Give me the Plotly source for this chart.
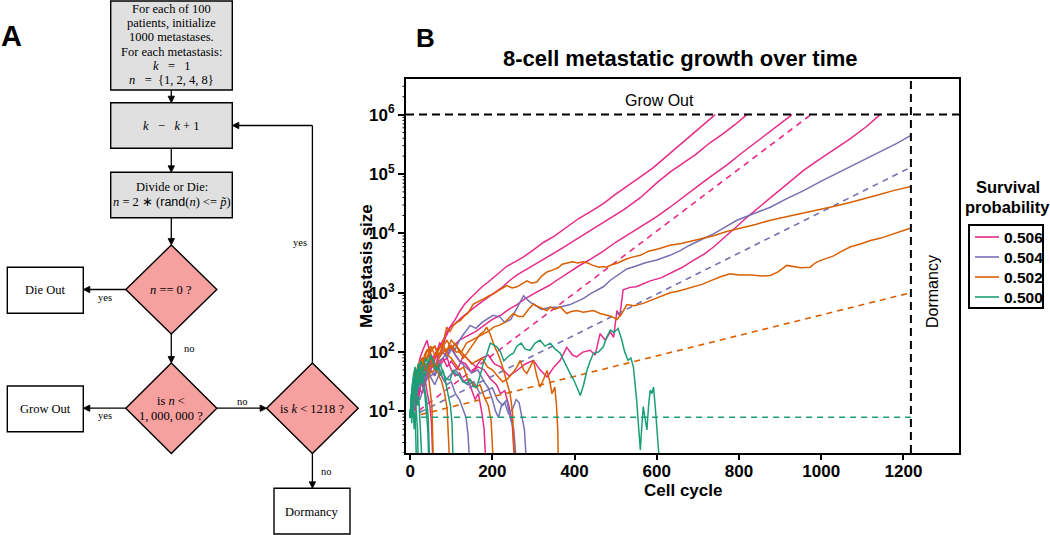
import math
import plotly.graph_objects as go

W, H = 1050, 535


def X(px):
    return px / W


def Y(py):
    return 1 - py / H


# ---------------- DATA ----------------
# Survival probabilities (legend labels)
probs = ["0.506", "0.504", "0.502", "0.500"]
colors = ["#e7298a", "#7570b3", "#d95f02", "#1b9e77"]
tick_cycles = [0, 200, 400, 600, 800, 1000, 1200]
tick_sizes = [10, 100, 1000, 10000, 100000, 1000000]
tick_size_labels = ["10<sup>1</sup>", "10<sup>2</sup>", "10<sup>3</sup>", "10<sup>4</sup>",
                    "10<sup>5</sup>", "10<sup>6</sup>"]
grow_out_size = 1000000
dormancy_cycle = 1218

# single trajectories: cell cycle and log10(metastasis size)
# ---- p = 0.506 ----
m506_a_cycle = [0, 6, 12, 18, 25, 32, 40, 48, 56, 64, 72, 80, 90, 100, 110, 120, 132, 145, 160, 175, 190, 205, 220,
                236, 255, 275, 300, 325, 350, 380, 410, 440, 470, 500, 530, 560, 590, 620, 650, 680, 710, 742]
m506_a_log = [0.9, 1.2, 1.0, 1.35, 1.5, 1.4, 1.7, 1.85, 1.75, 2.0, 2.15, 2.1, 2.35, 2.45, 2.55, 2.68, 2.8, 2.9, 3.0,
              3.1, 3.18, 3.27, 3.37, 3.45, 3.52, 3.6, 3.72, 3.85, 3.95, 4.1, 4.25, 4.37, 4.5, 4.66, 4.8, 4.95, 5.1,
              5.28, 5.46, 5.63, 5.82, 6.0]
m506_b_cycle = [0, 8, 16, 24, 32, 40, 50, 60, 70, 80, 90, 97, 110, 125, 146, 165, 185, 203, 222, 243, 260, 285, 310,
                340, 370, 400, 440, 480, 520, 560, 600, 632, 660, 695, 730, 760, 790, 819]
m506_b_log = [0.9, 1.3, 1.1, 1.5, 1.65, 1.6, 1.85, 1.95, 2.05, 2.2, 2.3, 2.42, 2.48, 2.58, 2.7, 2.8, 2.9, 2.99, 3.08,
              3.21, 3.3, 3.4, 3.5, 3.62, 3.75, 3.88, 4.05, 4.22, 4.4, 4.6, 4.85, 5.03, 5.17, 5.33, 5.53, 5.67, 5.83, 6.0]
m506_c_cycle = [0, 10, 20, 30, 40, 50, 60, 75, 90, 105, 120, 140, 160, 180, 200, 220, 240, 260, 280, 300, 320, 340,
                357, 381, 410, 440, 470, 500, 530, 560, 600, 632, 660, 695, 730, 770, 810, 850, 890, 929]
m506_c_log = [0.9, 1.4, 1.2, 1.6, 1.8, 1.7, 1.9, 2.0, 1.95, 2.1, 2.2, 2.28, 2.35, 2.45, 2.55, 2.62, 2.72, 2.8, 2.9,
              2.98, 3.05, 3.13, 3.21, 3.32, 3.45, 3.57, 3.7, 3.85, 3.98, 4.1, 4.28, 4.44, 4.58, 4.77, 4.95, 5.15,
              5.37, 5.58, 5.79, 6.0]
m506_d_cycle = [0, 10, 20, 30, 40, 50, 60, 70, 80, 90, 100, 115, 130, 145, 160, 175, 190, 205, 220, 240, 260, 280,
                300, 316, 333, 350, 365, 381, 395, 405, 420, 438, 450, 462, 475, 487, 495, 503, 510, 518, 535, 550,
                565, 584, 610, 632, 660, 690, 715, 738, 760, 780, 800, 819, 850, 880, 920, 957, 990, 1030, 1070,
                1110, 1143]
m506_d_log = [0.9, 1.2, 1.4, 1.3, 1.55, 1.7, 1.6, 1.8, 1.9, 1.75, 1.85, 1.7, 1.95, 1.85, 1.75, 1.9, 1.95, 1.8, 1.75,
              1.6, 1.69, 1.8, 1.86, 1.7, 1.58, 1.75, 1.86, 2.08, 1.95, 1.92, 2.0, 2.03, 1.95, 2.31, 2.2, 2.34, 2.25,
              2.7, 2.6, 3.05, 3.09, 3.1, 3.15, 3.2, 3.25, 3.32, 3.42, 3.55, 3.65, 3.77, 3.9, 4.02, 4.15, 4.27, 4.45,
              4.62, 4.85, 5.06, 5.22, 5.4, 5.59, 5.8, 6.0]
m506_e_cycle = [0, 6, 12, 18, 24, 30, 36, 42, 48, 52, 56]
m506_e_log = [0.9, 1.3, 1.6, 1.45, 1.7, 1.5, 1.55, 1.3, 1.1, 0.8, 0.0]
m506_f_cycle = [0, 8, 16, 24, 32, 41, 48, 55, 63, 70, 80, 90, 100, 110, 120, 130, 140, 150, 158, 166, 174, 180, 185]
m506_f_log = [0.9, 1.3, 1.6, 1.9, 2.05, 2.2, 2.0, 1.9, 2.0, 1.75, 1.85, 1.9, 1.7, 1.6, 1.65, 1.5, 1.55, 1.35, 1.2,
              1.3, 1.0, 0.7, 0.0]
m506_g_cycle = [0, 10, 20, 30, 40, 50, 60, 70, 80, 90, 100, 110, 120, 135, 150, 165, 180, 195, 210, 220, 230, 240,
                248, 255]
m506_g_log = [0.9, 1.2, 1.5, 1.45, 1.7, 1.8, 1.75, 1.95, 2.05, 2.0, 2.12, 1.95, 1.85, 1.8, 1.65, 1.75, 1.7, 1.55,
              1.45, 1.3, 1.35, 1.1, 0.85, 0.0]

# ---- p = 0.504 ----
m504_a_cycle = [0, 10, 20, 30, 40, 50, 60, 70, 80, 90, 100, 110, 120, 130, 146, 160, 175, 186, 202, 219, 230, 245,
                260, 276, 290, 305, 320, 340, 365, 389, 405, 421, 438, 454, 470, 487, 505, 527, 550, 570, 600, 632,
                657, 680, 710, 738, 765, 795, 835, 876, 915, 957, 1000, 1035, 1070, 1110, 1150, 1185, 1218]
m504_a_log = [0.9, 1.2, 1.4, 1.55, 1.7, 1.6, 1.65, 1.85, 1.9, 2.0, 2.1, 2.05, 2.2, 2.3, 2.45, 2.4, 2.5, 2.55, 2.62,
              2.59, 2.5, 2.55, 2.75, 2.95, 2.85, 2.78, 2.72, 2.75, 2.76, 2.8, 2.85, 2.9, 2.98, 3.04, 3.1, 3.21, 3.3,
              3.4, 3.45, 3.5, 3.55, 3.63, 3.71, 3.8, 3.9, 3.99, 4.1, 4.22, 4.33, 4.44, 4.58, 4.72, 4.88, 5.0, 5.12,
              5.27, 5.4, 5.52, 5.65]
m504_b_cycle = [0, 8, 16, 24, 32, 40, 50, 60, 70, 80, 90, 100, 110, 120, 128, 136, 141, 146]
m504_b_log = [0.9, 1.3, 1.5, 1.4, 1.65, 1.55, 1.7, 1.6, 1.75, 1.55, 1.45, 1.5, 1.3, 1.2, 1.05, 0.9, 0.6, 0.0]
m504_c_cycle = [0, 10, 20, 30, 40, 50, 60, 70, 80, 90, 100, 110, 120, 135, 150, 165, 180, 190, 200, 208, 215, 222,
                230, 240, 250, 258, 265, 272, 278, 284]
m504_c_log = [0.9, 1.1, 1.4, 1.5, 1.65, 1.8, 1.7, 1.9, 2.0, 1.9, 2.05, 1.95, 1.85, 1.75, 1.65, 1.7, 1.5, 1.4, 1.2,
              1.0, 0.9, 1.1, 1.15, 0.95, 1.05, 1.2, 1.15, 0.9, 0.7, 0.0]
m504_d_cycle = [0, 12, 24, 36, 48, 60, 72, 84, 96, 110, 125, 140, 155, 170, 185, 200, 212, 225, 235, 245, 252, 260]
m504_d_log = [0.9, 1.3, 1.2, 1.5, 1.6, 1.45, 1.65, 1.5, 1.6, 1.7, 1.55, 1.45, 1.5, 1.3, 1.35, 1.4, 1.2, 1.1, 1.2,
              0.85, 0.7, 0.0]

# ---- p = 0.502 ----
m502_a_cycle = [0, 8, 16, 24, 32, 40, 50, 60, 68, 75, 82, 89, 97, 105, 113, 122, 131, 140, 154, 167, 180, 192, 203,
                218, 235, 248, 260, 272, 284, 296, 308, 320, 333, 346, 360, 370, 381, 395, 408, 421, 432, 445, 460,
                470, 478, 490, 505, 520, 540, 560, 580, 605, 632, 660, 690, 715, 738, 770, 800, 840, 876, 910, 940,
                970, 997, 1035, 1070, 1105, 1140, 1175, 1218]
m502_a_log = [0.9, 1.3, 1.7, 1.6, 1.85, 1.9, 2.05, 2.1, 1.95, 2.0, 2.2, 2.42, 2.35, 2.45, 2.5, 2.53, 2.6, 2.65,
              2.81, 2.85, 2.9, 2.95, 2.98, 3.05, 3.12, 3.08, 3.1, 3.15, 3.2, 3.16, 3.18, 3.28, 3.35, 3.38, 3.42,
              3.48, 3.5, 3.52, 3.5, 3.52, 3.5, 3.46, 3.43, 3.44, 3.43, 3.47, 3.5, 3.55, 3.6, 3.63, 3.7, 3.74, 3.8,
              3.83, 3.88, 3.92, 3.96, 4.03, 4.08, 4.15, 4.22, 4.27, 4.32, 4.36, 4.41, 4.46, 4.52, 4.58, 4.65, 4.72,
              4.79]
m502_b_cycle = [0, 10, 20, 30, 40, 50, 60, 70, 80, 90, 100, 112, 125, 137, 150, 162, 175, 190, 203, 216, 230, 240,
                251, 263, 275, 288, 300, 316, 333, 341, 352, 365, 381, 390, 405, 421, 433, 446, 462, 478, 490, 503,
                515, 527, 545, 567, 585, 608, 632, 649, 670, 689, 710, 730, 755, 778, 800, 830, 855, 876, 895, 916,
                935, 950, 973, 985, 997, 1015, 1030, 1050, 1070, 1095, 1120, 1145, 1170, 1195, 1218]
m502_b_log = [0.9, 1.3, 1.5, 1.75, 1.8, 1.65, 1.7, 1.9, 2.0, 2.05, 2.1, 2.0, 2.0, 2.15, 2.2, 2.25, 2.3, 2.35, 2.42,
              2.45, 2.5, 2.58, 2.65, 2.6, 2.6, 2.72, 2.81, 2.75, 2.7, 2.76, 2.72, 2.76, 2.65, 2.68, 2.7, 2.67, 2.68,
              2.7, 2.65, 2.62, 2.6, 2.55, 2.65, 2.8, 2.78, 2.82, 2.87, 2.93, 3.0, 3.02, 3.06, 3.09, 3.14, 3.2, 3.27,
              3.32, 3.3, 3.3, 3.28, 3.29, 3.35, 3.46, 3.44, 3.42, 3.43, 3.5, 3.54, 3.58, 3.62, 3.7, 3.77, 3.82,
              3.88, 3.92, 3.98, 4.03, 4.09]
m502_c_cycle = [0, 6, 12, 18, 24, 30, 36, 42, 48, 53, 57]
m502_c_log = [0.9, 1.4, 1.7, 1.55, 1.85, 1.9, 1.7, 1.75, 1.4, 1.1, 0.0]
m502_d_cycle = [0, 7, 14, 21, 28, 35, 42, 49, 56, 63, 70, 77, 84, 90, 97]
m502_d_log = [0.9, 1.3, 1.55, 1.8, 1.7, 1.95, 2.05, 1.9, 1.75, 1.8, 1.6, 1.5, 1.3, 1.05, 0.0]
m502_e_cycle = [0, 10, 20, 30, 40, 50, 60, 70, 80, 90, 100, 110, 120, 130, 140, 150, 160, 170, 180, 190, 197, 203]
m502_e_log = [0.9, 1.5, 1.8, 1.7, 2.0, 2.1, 1.95, 2.05, 2.15, 1.95, 1.9, 1.8, 1.7, 1.75, 1.55, 1.5, 1.4, 1.45, 1.25,
              1.1, 0.85, 0.0]
m502_f_cycle = [0, 10, 20, 30, 40, 50, 60, 70, 80, 90, 100, 110, 120, 130, 140, 150, 160, 170, 180, 186, 195, 205,
                215, 225, 235, 243, 249, 255]
m502_f_log = [0.9, 1.3, 1.6, 1.9, 1.85, 2.0, 2.1, 1.95, 2.1, 2.2, 2.05, 2.15, 2.0, 1.9, 2.0, 2.1, 2.2, 2.3, 2.35,
              2.42, 2.3, 2.1, 1.95, 1.75, 1.5, 1.3, 1.0, 0.0]
m502_g_cycle = [0, 12, 25, 37, 50, 62, 75, 88, 100, 112, 125, 137, 150, 162, 175, 188, 200, 212, 225, 237, 250, 260,
                268, 276, 284, 292, 300, 308, 316, 325, 333, 340, 345, 352, 356, 359, 361]
m502_g_log = [0.9, 1.4, 1.6, 1.8, 1.75, 1.95, 2.1, 2.0, 2.2, 2.1, 2.0, 1.9, 1.8, 1.85, 1.9, 1.75, 1.7, 1.6, 1.5,
              1.55, 1.65, 1.75, 1.86, 1.7, 1.64, 1.75, 1.86, 1.6, 1.41, 1.55, 1.69, 1.5, 1.3, 1.41, 1.1, 0.7, 0.0]

# ---- p = 0.500 ----
m500_a_cycle = [0, 6, 12, 18, 24, 30, 36, 42, 49, 56, 64, 73, 80, 88, 97, 105, 112, 120, 128, 138, 146, 154, 162,
                170, 178, 186, 195, 203, 211, 220, 228, 235, 243, 251, 260, 270, 280, 292, 304, 316, 328, 341, 353,
                365, 377, 389, 400, 408, 414, 422, 430, 438, 446, 458, 470, 478, 487, 496, 506, 515, 522, 530, 537,
                543, 548, 551, 555, 560, 563, 567, 571, 576, 580, 584, 588, 592, 596, 600, 604, 608]
m500_a_log = [0.9, 1.3, 1.6, 1.4, 1.7, 1.75, 1.6, 1.8, 1.92, 1.85, 1.7, 1.81, 1.65, 1.55, 1.53, 1.7, 1.62, 1.6, 1.5,
              1.47, 1.55, 1.42, 1.41, 1.6, 1.81, 1.95, 2.15, 2.12, 2.09, 2.0, 1.85, 1.9, 1.95, 1.98, 2.1, 2.15,
              2.05, 2.03, 2.15, 2.2, 2.1, 2.15, 2.05, 1.98, 1.8, 1.64, 1.5, 1.35, 1.27, 1.45, 1.69, 1.85, 1.98,
              2.0, 2.09, 2.25, 2.37, 2.33, 2.4, 2.2, 2.0, 1.86, 1.9, 1.75, 1.45, 1.19, 0.8, 0.35, 0.7, 1.08, 0.9,
              0.69, 1.1, 1.36, 1.3, 1.41, 1.1, 0.8, 0.5, 0.0]
m500_b_cycle = [0, 3, 6, 9, 12, 15, 18, 21, 24, 27, 30]
m500_b_log = [0.9, 1.2, 1.5, 1.3, 1.55, 1.4, 1.1, 1.25, 0.9, 0.6, 0.0]
m500_c_cycle = [0, 4, 8, 12, 16, 20, 24, 28, 32, 36, 40, 43, 46]
m500_c_log = [0.9, 1.3, 1.6, 1.75, 1.6, 1.8, 1.65, 1.5, 1.6, 1.3, 1.0, 0.7, 0.0]
m500_d_cycle = [0, 5, 10, 15, 20, 26, 32, 38, 44, 50, 56, 62, 68, 74, 80, 86, 92, 98, 102, 105]
m500_d_log = [0.9, 1.4, 1.65, 1.5, 1.7, 1.85, 1.7, 1.9, 1.8, 1.95, 1.85, 1.7, 1.75, 1.6, 1.7, 1.5, 1.3, 1.1, 0.8,
              0.0]
m500_e_cycle = [0, 2, 4, 6, 8, 10, 12, 14, 16]
m500_e_log = [0.9, 1.1, 0.8, 1.2, 1.0, 0.7, 1.0, 0.6, 0.0]
m500_f_cycle = [0, 4, 8, 12, 16, 20, 24, 28, 32, 36, 40, 44, 48]
m500_f_log = [0.9, 1.35, 1.2, 1.5, 1.3, 1.6, 1.45, 1.7, 1.5, 1.35, 1.2, 0.9, 0.0]
m500_g_cycle = [0, 3, 6, 9, 12, 15, 18, 20]
m500_g_log = [0.9, 1.3, 1.1, 1.45, 1.3, 1.0, 0.7, 0.0]

# expected (mean) growth, dashed lines: end points
exp506_cycle = [0, 975]
exp506_size = [8, 1000000]
exp504_cycle = [0, 1218]
exp504_size = [8, 130000]
exp502_cycle = [0, 1218]
exp502_size = [8, 1000]
exp500_cycle = [0, 1218]
exp500_size = [8, 8]

runs = {
    "0.506": [(m506_a_cycle, m506_a_log), (m506_b_cycle, m506_b_log), (m506_c_cycle, m506_c_log),
              (m506_d_cycle, m506_d_log), (m506_e_cycle, m506_e_log), (m506_f_cycle, m506_f_log),
              (m506_g_cycle, m506_g_log)],
    "0.504": [(m504_a_cycle, m504_a_log), (m504_b_cycle, m504_b_log), (m504_c_cycle, m504_c_log),
              (m504_d_cycle, m504_d_log)],
    "0.502": [(m502_a_cycle, m502_a_log), (m502_b_cycle, m502_b_log), (m502_c_cycle, m502_c_log),
              (m502_d_cycle, m502_d_log), (m502_e_cycle, m502_e_log), (m502_f_cycle, m502_f_log),
              (m502_g_cycle, m502_g_log)],
    "0.500": [(m500_a_cycle, m500_a_log), (m500_b_cycle, m500_b_log), (m500_c_cycle, m500_c_log),
              (m500_d_cycle, m500_d_log), (m500_e_cycle, m500_e_log), (m500_f_cycle, m500_f_log),
              (m500_g_cycle, m500_g_log)],
}
expected = {
    "0.506": (exp506_cycle, exp506_size),
    "0.504": (exp504_cycle, exp504_size),
    "0.502": (exp502_cycle, exp502_size),
    "0.500": (exp500_cycle, exp500_size),
}

# ---------------- FIGURE ----------------
SANS = "Liberation Sans, Arial, Helvetica, sans-serif"
SERIF = "Liberation Serif, Times New Roman, serif"

fig = go.Figure()
for p, col in zip(probs, colors):
    for cyc, lg in runs[p]:
        fig.add_trace(go.Scatter(
            x=cyc, y=[10 ** v for v in lg], mode="lines",
            line=dict(color=col, width=1.5), name=p, showlegend=False, hoverinfo="skip"))
    ec, es = expected[p]
    fig.add_trace(go.Scatter(
        x=ec, y=es, mode="lines", line=dict(color=col, width=1.6, dash="6px,5px"),
        name=p, showlegend=False, hoverinfo="skip"))

fig.update_layout(
    width=W, height=H,
    margin=dict(l=0, r=0, t=0, b=0),
    paper_bgcolor="white", plot_bgcolor="white",
    font=dict(family=SANS, color="black", size=12),
    showlegend=False,
    xaxis=dict(
        domain=[X(406), X(959)], range=[-10, 1335],
        tickvals=tick_cycles, ticks="outside", ticklen=5, tickwidth=2, tickcolor="black",
        ticklabelstandoff=-3,
        showline=True, linewidth=2, linecolor="black", mirror=True,
        showgrid=False, zeroline=False, automargin=False,
        tickfont=dict(family=SANS, size=17, weight="bold", color="black"),
    ),
    yaxis=dict(
        type="log", domain=[Y(453), Y(79)], range=[0.3, 6.6],
        tickvals=tick_sizes, ticktext=tick_size_labels,
        ticks="outside", ticklen=6, tickwidth=2, tickcolor="black",
        showline=True, linewidth=2, linecolor="black", mirror=True,
        showgrid=False, zeroline=False, automargin=False,
        tickfont=dict(family=SANS, size=17, weight="bold", color="black"),
    ),
)

shapes = []
# Grow out threshold and dormancy limit
shapes.append(dict(type="line", xref="x domain", x0=0, x1=1, yref="y", y0=grow_out_size, y1=grow_out_size,
                   line=dict(color="black", width=2, dash="8px,5px")))
shapes.append(dict(type="line", xref="x", x0=dormancy_cycle, x1=dormancy_cycle, yref="y domain", y0=0, y1=1,
                   line=dict(color="black", width=2, dash="8px,5px")))
# minor log ticks on the left axis (2..9 within each decade)
for dec in range(0, 7):
    for m in range(2, 10):
        v = m * 10 ** dec
        if 2.0 <= v <= 3.9e6:
            shapes.append(dict(type="line", xref="x domain", x0=0, x1=-3.5 / 553, yref="y", y0=v, y1=v,
                               line=dict(color="black", width=1)))


# ---------------- Panel A : flowchart ----------------
def rect(x0, y0, x1, y1, fill, width=1.4):
    shapes.append(dict(type="rect", xref="paper", yref="paper", x0=X(x0), x1=X(x1), y0=Y(y1), y1=Y(y0),
                       line=dict(color="black", width=width), fillcolor=fill, layer="above"))


def diamond(cx, cy, hw, hh):
    path = "M {},{} L {},{} L {},{} L {},{} Z".format(
        X(cx), Y(cy - hh), X(cx + hw), Y(cy), X(cx), Y(cy + hh), X(cx - hw), Y(cy))
    shapes.append(dict(type="path", xref="paper", yref="paper", path=path,
                       line=dict(color="black", width=1.4), fillcolor="#f6a0a0", layer="above"))


def arrow(xt, yt, xh, yh, head=6.5, half=3.2):
    dx, dy = xh - xt, yh - yt
    ln = math.hypot(dx, dy)
    ux, uy = dx / ln, dy / ln
    bx, by = xh - ux * head, yh - uy * head
    shapes.append(dict(type="line", xref="paper", yref="paper", x0=X(xt), y0=Y(yt), x1=X(bx), y1=Y(by),
                       line=dict(color="black", width=1.3)))
    nx, ny = -uy, ux
    path = "M {},{} L {},{} L {},{} Z".format(
        X(xh), Y(yh), X(bx + nx * half), Y(by + ny * half), X(bx - nx * half), Y(by - ny * half))
    shapes.append(dict(type="path", xref="paper", yref="paper", path=path,
                       line=dict(color="black", width=0.8), fillcolor="black"))


GRAY = "#e0e0e0"
rect(110.7, 1, 232.3, 90, GRAY)
rect(110.7, 102.7, 232.3, 148.3, GRAY)
rect(110.7, 172.3, 232.3, 217.7, GRAY)
rect(7.3, 267.3, 83.3, 313.3, "white")
rect(7.3, 386, 83.3, 431.7, "white")
rect(274, 488.3, 350, 534, "white")
diamond(171.3, 289.5, 45.5, 44.5)
diamond(171.3, 408.2, 45.5, 45.2)
diamond(312.4, 408.2, 45.8, 45.2)
# feedback line up the right side
shapes.append(dict(type="line", xref="paper", yref="paper", x0=X(312.4), x1=X(312.4), y0=Y(363), y1=Y(125.5),
                   line=dict(color="black", width=1.3)))
arrow(171.3, 90, 171.3, 102.7)
arrow(171.3, 148.3, 171.3, 172.3)
arrow(171.3, 217.7, 171.3, 245)
arrow(125.8, 289.5, 83.3, 289.5)
arrow(171.3, 334, 171.3, 363)
arrow(125.8, 408.2, 83.3, 408.2)
arrow(216.8, 408.2, 266.6, 408.2)
arrow(312.4, 125.5, 232.3, 125.5)
arrow(312.4, 453.4, 312.4, 488.3)

annotations = []


def note(text, px, py, size=12.5, family=SERIF, weight="normal", angle=0, xanchor="center"):
    annotations.append(dict(text=text, x=X(px), y=Y(py), xref="paper", yref="paper", showarrow=False,
                            xanchor=xanchor, yanchor="middle", textangle=angle,
                            font=dict(family=family, size=size, color="black", weight=weight)))


NB = "\u00a0"
note("For each of 100", 171.5, 8.8)
note("patients, initialize", 171.5, 23.3)
note("1000 metastases.", 171.5, 37.5)
note("For each metastasis:", 171.5, 51.7)
note("<i>k</i>" + NB * 3 + "=" + NB * 3 + "1", 171.5, 65.5)
note("<i>n</i>" + NB * 3 + "=" + NB * 2 + "{1, 2, 4, 8}", 171.5, 80)
note("<i>k</i>" + NB * 3 + "\u2212" + NB * 3 + "<i>k</i> + 1", 171.5, 125.5)
note("Divide or Die:", 171.5, 186.7)
note("<i>n</i> = 2 \u2217 (<span style='font-family:Liberation Sans'>rand</span>(<i>n</i>) &lt;= <i>p\u0303</i>)",
     171.5, 201.7)
note("<i>n</i> == 0 ?", 171.3, 290)
note("is <i>n</i> &lt;", 171.3, 400.5)
note("1,\u2009000,\u2009000 ?", 171.3, 415.5)
note("is <i>k</i> &lt; 1218 ?", 312.4, 408.5)
note("Die Out", 45.3, 290.3)
note("Grow Out", 45.3, 409)
note("Dormancy", 312, 511.5)
note("yes", 104.5, 297.5, size=10.5)
note("yes", 104.5, 415.5, size=10.5)
note("no", 182, 348.5, size=10.5, xanchor="left")
note("no", 242, 401.5, size=10.5)
note("yes", 300, 242, size=10.5)
note("no", 318.5, 471.5, size=10.5, xanchor="left")

# panel letters and chart texts
note("A", 11, 36, size=29, family=SANS, weight="bold")
note("B", 425.5, 38, size=26, family=SANS, weight="bold")
note("8-cell metastatic growth over time", 680, 58.5, size=22, family=SANS, weight="bold")
note("Metastasis size", 366, 266, size=17, family=SANS, weight="bold", angle=-90)
note("Cell cycle", 683, 490, size=17, family=SANS, weight="bold")
note("Grow Out", 659, 100, size=16, family=SANS)
note("Dormancy", 932, 292, size=16, family=SANS, angle=-90)

# legend (title above a framed key)
note("Survival", 1008, 187, size=16.5, family=SANS, weight="bold")
note("probability", 1007, 207, size=16.5, family=SANS, weight="bold")
rect(969, 225, 1043, 308, "white", width=2)
for i, (p, col) in enumerate(zip(probs, colors)):
    yy = 237 + 20 * i
    shapes.append(dict(type="line", xref="paper", yref="paper", x0=X(975), x1=X(999), y0=Y(yy), y1=Y(yy),
                       line=dict(color=col, width=1.6)))
    note(p, 1001.5, yy, size=15.5, family=SANS, weight="bold", xanchor="left")

fig.update_layout(shapes=shapes, annotations=annotations)
fig.write_html("out.html", config={"displayModeBar": False},
               post_script="document.body.style.margin='0px';document.body.style.overflow='hidden';")
